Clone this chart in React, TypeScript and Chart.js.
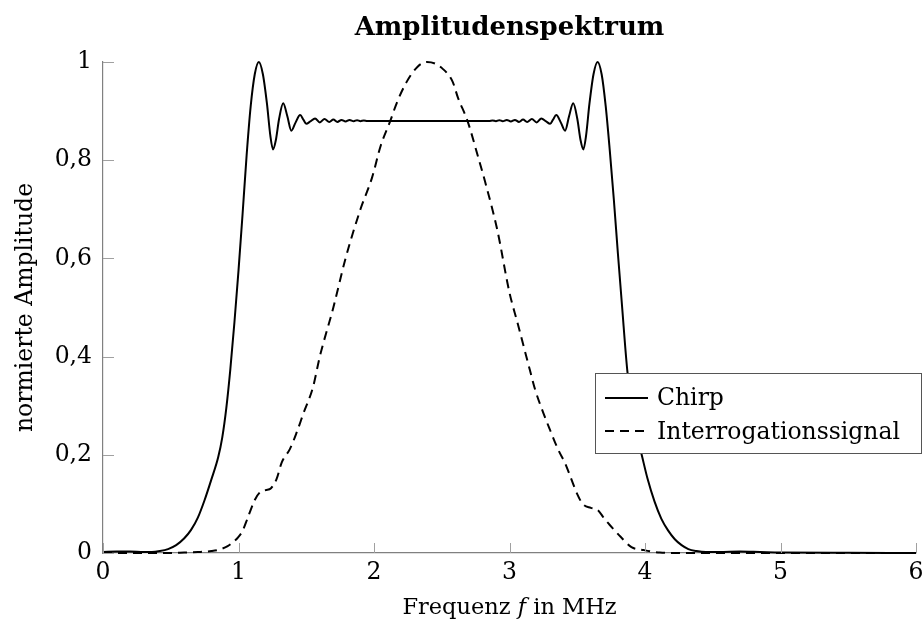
import React, { useEffect, useRef } from "react";
import { Chart, registerables } from "chart.js";

Chart.register(...registerables);

// Amplitude spectrum of the chirp (normalised), frequency in MHz
const chirpFreq = [
  0.0, 0.1, 0.2, 0.3, 0.36, 0.42, 0.48, 0.54, 0.6, 0.65, 0.7, 0.75, 0.8, 0.85, 0.88, 0.91, 0.94, 0.97,
  1.0, 1.03, 1.06, 1.09, 1.12, 1.15, 1.18, 1.21, 1.235, 1.255, 1.275, 1.3, 1.33, 1.36, 1.39, 1.42,
  1.455, 1.48, 1.5, 1.53, 1.565, 1.6, 1.635, 1.67, 1.7, 1.73, 1.76, 1.79, 1.82, 1.85, 1.875, 1.9,
  1.925, 1.95, 2.4, 2.85, 2.875, 2.9, 2.925, 2.95, 2.98, 3.01, 3.04, 3.07, 3.1, 3.13, 3.165, 3.2,
  3.235, 3.27, 3.3, 3.32, 3.345, 3.38, 3.41, 3.44, 3.47, 3.5, 3.525, 3.545, 3.565, 3.59, 3.62, 3.65,
  3.68, 3.71, 3.74, 3.77, 3.8, 3.83, 3.87, 3.91, 3.95, 3.98, 4.02, 4.07, 4.12, 4.17, 4.22, 4.27,
  4.32, 4.38, 4.45, 4.55, 4.7, 4.85, 5.0, 5.5, 6.0,
];
const chirpAmp = [
  0.002, 0.003, 0.003, 0.002, 0.002, 0.004, 0.008, 0.016, 0.03, 0.047, 0.072, 0.108, 0.15, 0.195, 0.235, 0.295, 0.375, 0.47,
  0.575, 0.69, 0.81, 0.91, 0.975, 1.0, 0.975, 0.915, 0.85, 0.822, 0.84, 0.885, 0.916, 0.89, 0.86, 0.876,
  0.892, 0.882, 0.874, 0.879, 0.885, 0.877, 0.884, 0.878, 0.883, 0.878, 0.882, 0.879, 0.882, 0.8795, 0.8815, 0.8795,
  0.881, 0.88, 0.88, 0.88, 0.881, 0.8795, 0.8815, 0.8795, 0.882, 0.879, 0.882, 0.878, 0.883, 0.878, 0.884, 0.877,
  0.885, 0.879, 0.874, 0.882, 0.892, 0.876, 0.86, 0.89, 0.916, 0.885, 0.84, 0.822, 0.85, 0.915, 0.975, 1.0,
  0.975, 0.91, 0.82, 0.72, 0.61, 0.505, 0.37, 0.29, 0.23, 0.195, 0.15, 0.105, 0.07, 0.046, 0.028, 0.016,
  0.008, 0.004, 0.002, 0.002, 0.003, 0.002, 0.001, 0.0005, 0.0,
];

// Amplitude spectrum of the interrogation signal (normalised)
const signalFreq = [
  0.0, 0.5, 0.6, 0.7, 0.8, 0.86, 0.92, 0.96, 1.0, 1.03, 1.07, 1.12, 1.16, 1.2, 1.24, 1.28, 1.32, 1.38,
  1.43, 1.48, 1.55, 1.6, 1.7, 1.79, 1.9, 1.985, 2.05, 2.12, 2.17, 2.24, 2.32, 2.39, 2.45, 2.5,
  2.58, 2.62, 2.69, 2.77, 2.82, 2.91, 3.0, 3.06, 3.15, 3.19, 3.25, 3.3, 3.36, 3.41, 3.45, 3.5,
  3.54, 3.6, 3.65, 3.7, 3.74, 3.82, 3.9, 3.99, 4.11, 4.3, 6.0,
];
const signalAmp = [
  0.0, 0.0, 0.001, 0.002, 0.004, 0.007, 0.014, 0.022, 0.033, 0.045, 0.073, 0.108, 0.124, 0.128, 0.132, 0.15, 0.185, 0.212,
  0.246, 0.285, 0.338, 0.4, 0.5, 0.6, 0.7, 0.764, 0.83, 0.88, 0.918, 0.959, 0.99, 1.0, 0.997, 0.988,
  0.96, 0.927, 0.88, 0.805, 0.756, 0.658, 0.53, 0.468, 0.373, 0.332, 0.285, 0.25, 0.21, 0.183, 0.155, 0.12,
  0.1, 0.092, 0.088, 0.07, 0.057, 0.033, 0.012, 0.006, 0.001, 0.0, 0.0,
];

const seriesLabels = ["Chirp", "Interrogationssignal"];
const xTickValues = [0, 1, 2, 3, 4, 5, 6];
const yTickValues = [0, 0.2, 0.4, 0.6, 0.8, 1];

const titleText = "Amplitudenspektrum";
const yTitleText = "normierte Amplitude";
const xTitleParts = [
  { text: "Frequenz ", italic: false },
  { text: "f", italic: true },
  { text: " in MHz", italic: false },
];

const SERIF = "'DejaVu Serif', serif";
const AXIS_GREY = "#808080";
const TICK_GREY = "#a0a0a0";

function formatTick(v: number): string {
  if (v === 0) return "0";
  if (v === 1) return "1";
  return v.toFixed(1).replace(".", ",");
}

// inward tick marks, x-axis title with italic symbol, boxed legend
const decorations = {
  id: "decorations",
  afterDraw(chart: any) {
    const { ctx, chartArea, scales } = chart;
    const xs = scales.x;
    const ys = scales.y;
    ctx.save();

    // tick marks pointing into the plot
    ctx.strokeStyle = TICK_GREY;
    ctx.lineWidth = 1;
    ctx.beginPath();
    for (const v of xTickValues) {
      const px = Math.round(xs.getPixelForValue(v)) + 0.5;
      ctx.moveTo(px, chartArea.bottom);
      ctx.lineTo(px, chartArea.bottom - 10);
    }
    for (const v of yTickValues) {
      const py = Math.round(ys.getPixelForValue(v)) + 0.5;
      ctx.moveTo(chartArea.left, py);
      ctx.lineTo(chartArea.left + 11, py);
    }
    ctx.stroke();

    // x-axis title
    ctx.fillStyle = "#000";
    ctx.textBaseline = "alphabetic";
    ctx.textAlign = "left";
    const fontFor = (italic: boolean) => `${italic ? "italic " : ""}22.5px ${SERIF}`;
    let total = 0;
    for (const p of xTitleParts) {
      ctx.font = fontFor(p.italic);
      total += ctx.measureText(p.text).width;
    }
    let tx = (chartArea.left + chartArea.right) / 2 - total / 2;
    const ty = chartArea.bottom + 61;
    for (const p of xTitleParts) {
      ctx.font = fontFor(p.italic);
      ctx.fillText(p.text, tx, ty);
      tx += ctx.measureText(p.text).width;
    }

    // legend box
    const boxLeft = chartArea.right - 321;
    const boxTop = chartArea.top + 311;
    const boxW = 326;
    const boxH = 80;
    ctx.fillStyle = "#fff";
    ctx.fillRect(boxLeft, boxTop, boxW, boxH);
    ctx.strokeStyle = "#555";
    ctx.lineWidth = 1;
    ctx.strokeRect(boxLeft + 0.5, boxTop + 0.5, boxW, boxH);

    const rows = [
      { y: boxTop + 25, base: boxTop + 32 },
      { y: boxTop + 58, base: boxTop + 66 },
    ];
    chart.data.datasets.forEach((ds: any, i: number) => {
      const r = rows[i];
      ctx.strokeStyle = ds.borderColor;
      ctx.lineWidth = ds.borderWidth;
      ctx.setLineDash(ds.borderDash || []);
      ctx.beginPath();
      ctx.moveTo(boxLeft + 10, r.y);
      ctx.lineTo(boxLeft + 53, r.y);
      ctx.stroke();
      ctx.setLineDash([]);
      ctx.fillStyle = "#000";
      ctx.font = `23.5px ${SERIF}`;
      ctx.fillText(ds.label, boxLeft + 62, r.base);
    });

    ctx.restore();
  },
};

export default function App() {
  const canvasRef = useRef<HTMLCanvasElement | null>(null);

  useEffect(() => {
    const canvas = canvasRef.current;
    if (!canvas) return;

    const chart = new Chart(canvas, {
      type: "line",
      data: {
        datasets: [
          {
            label: seriesLabels[0],
            data: chirpFreq.map((f, i) => ({ x: f, y: chirpAmp[i] })),
            borderColor: "#000",
            borderWidth: 2,
            pointRadius: 0,
            fill: false,
            cubicInterpolationMode: "monotone",
            clip: false,
          },
          {
            label: seriesLabels[1],
            data: signalFreq.map((f, i) => ({ x: f, y: signalAmp[i] })),
            borderColor: "#000",
            borderWidth: 2,
            borderDash: [9, 6],
            pointRadius: 0,
            fill: false,
            cubicInterpolationMode: "monotone",
            clip: false,
          },
        ],
      },
      options: {
        responsive: false,
        animation: false,
        devicePixelRatio: 1,
        layout: { padding: { left: 0, right: 8, top: 0, bottom: 0 } },
        plugins: {
          legend: { display: false },
          tooltip: { enabled: false },
          title: {
            display: true,
            fullSize: false,
            text: titleText,
            color: "#000",
            font: { family: SERIF, size: 26, weight: "bold", lineHeight: "28px" },
            padding: { top: 14, bottom: 20 },
          },
        },
        scales: {
          x: {
            type: "linear",
            min: 0,
            max: 6,
            afterBuildTicks: (scale: any) => {
              scale.ticks = xTickValues.map((v) => ({ value: v }));
            },
            afterFit: (scale: any) => {
              scale.height = 77;
              scale.paddingLeft = 0;
              scale.paddingRight = 0;
            },
            ticks: {
              color: "#000",
              font: { family: SERIF, size: 23.5 },
              padding: 6,
              maxRotation: 0,
              callback: (v: any) => String(v),
            },
            grid: { display: true, drawOnChartArea: false, drawTicks: false },
            border: { display: true, color: AXIS_GREY, width: 1.2 },
          },
          y: {
            type: "linear",
            min: 0,
            max: 1,
            afterBuildTicks: (scale: any) => {
              scale.ticks = yTickValues.map((v) => ({ value: v }));
            },
            afterFit: (scale: any) => {
              scale.width = 103;
              scale.paddingTop = 0;
              scale.paddingBottom = 0;
            },
            ticks: {
              color: "#000",
              font: { family: SERIF, size: 23.5 },
              padding: 11,
              callback: (v: any) => formatTick(Number(v)),
            },
            grid: { display: true, drawOnChartArea: false, drawTicks: false },
            border: { display: true, color: AXIS_GREY, width: 1.2 },
            title: {
              display: true,
              text: yTitleText,
              color: "#000",
              font: { family: SERIF, size: 23.5, lineHeight: 1.2 },
              padding: { top: 12, bottom: 0 },
            },
          },
        },
      },
      plugins: [decorations],
    });

    return () => chart.destroy();
  }, []);

  return (
    <div style={{ position: "absolute", left: 0, top: 0, width: 924, height: 630, background: "#fff" }}>
      <canvas ref={canvasRef} width={924} height={630} style={{ display: "block" }} />
    </div>
  );
}
